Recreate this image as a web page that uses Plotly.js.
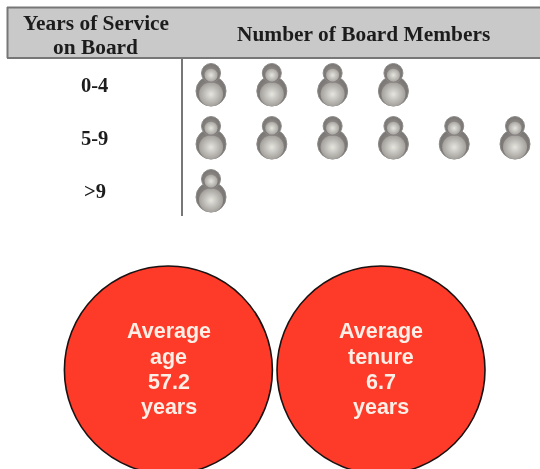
<!DOCTYPE html>
<html>
<head>
<meta charset="utf-8">
<script src="https://cdn.plot.ly/plotly-3.0.1.min.js"></script>
<style>html,body{margin:0;padding:0;background:#fff;overflow:hidden}#c{width:540px;height:469px;filter:blur(0.45px)}</style>
</head>
<body>
<div id="c"></div>
<script>
var categories = ["0-4", "5-9", ">9"];
var memberCounts = [4, 6, 1];
var headerLeft = ["Years of Service", "on Board"];
var headerRight = "Number of Board Members";
var circleAge = ["Average", "age", "57.2", "years"];
var circleTenure = ["Average", "tenure", "6.7", "years"];

var W = 540, H = 469;
var plotL = 183, plotT = 58, plotB = 216;
function px(x){return (x-plotL)/(W-plotL);}
function py(y){return (plotB-y)/(plotB-plotT);}

var xs = [], ys = [];
memberCounts.forEach(function(n, r){
  for (var i = 1; i <= n; i++){ xs.push(i); ys.push(r); }
});
function layer(dy, size, outer, inner, lineColor){
  return {
    type:"scatter", mode:"markers", x:xs, y:ys.map(function(v){return v+dy;}),
    hoverinfo:"skip", cliponaxis:false, showlegend:false,
    marker:{symbol:"circle", size:size, color:outer,
      gradient:{type:"radial", color:inner},
      line:{width:lineColor?1:0, color:lineColor||outer}}
  };
}
var traces = [
  layer(0.115, 30, "#777472", "#9b9895", "#8d8b89"),
  layer(0.175, 24, "#a3a09c", "#e6e5de"),
  layer(-0.225, 19, "#777472", "#9b9895", "#8d8b89"),
  layer(-0.185, 13, "#a9a6a2", "#e6e5de")
];

function circle(cx){
  var r = 104, cy = 370;
  return {type:"circle", xref:"paper", yref:"paper", layer:"below",
    x0:px(cx-r), x1:px(cx+r), y0:py(cy+r), y1:py(cy-r),
    fillcolor:"#fe3a28", line:{color:"#1a1212", width:1.6}};
}
function hline(y){
  return {type:"line", xref:"paper", yref:"paper", x0:px(7), x1:1, y0:py(y), y1:py(y),
    line:{color:"#777777", width:2}};
}

var shapes = [
  {type:"rect", xref:"paper", yref:"paper", layer:"below", x0:px(7), x1:1, y0:py(58), y1:py(7),
    fillcolor:"#c9c9c9", line:{width:0}},
  hline(7.5), hline(58),
  {type:"line", xref:"paper", yref:"paper", x0:px(7.5), x1:px(7.5), y0:py(58), y1:py(7),
    line:{color:"#777777", width:2}},
  circle(168.4), circle(381)
];

var serif = "Liberation Serif, Times New Roman, serif";
var sans = "Liberation Sans, Arial, sans-serif";
var headFont = {family:serif, size:21.4, color:"#1c1c1c", weight:"bold"};
var catFont = {family:serif, size:20.5, color:"#1c1c1c", weight:"bold"};
var sansFont = {family:sans, size:21.5, color:"#fdeee6", weight:"bold"};
function note(text, x, y, font, yref){
  return {text:text, xref:"paper", yref:yref||"paper", x:px(x), y:y, showarrow:false,
    xanchor:"center", yanchor:"middle", font:font};
}
var annotations = [
  note(headerLeft[0], 95.5, py(23), headFont),
  note(headerLeft[1], 95.5, py(46.5), headFont),
  note(headerRight, 363.5, py(34), headFont)
];
categories.forEach(function(c, r){
  annotations.push(note(c, 94.5, r, catFont, "y"));
});
var lineY = [330.5, 356.5, 382, 407.5];
circleAge.forEach(function(t, i){ annotations.push(note(t, 168.5, py(lineY[i]), sansFont)); });
circleTenure.forEach(function(t, i){ annotations.push(note(t, 380.5, py(lineY[i]), sansFont)); });

var layout = {
  width:W, height:H, paper_bgcolor:"#ffffff", plot_bgcolor:"#ffffff",
  margin:{l:plotL, r:0, t:plotT, b:H-plotB, pad:0}, showlegend:false,
  xaxis:{range:[0.539, 6.411], visible:false, fixedrange:true},
  yaxis:{range:[2.472, -0.509], showgrid:false, zeroline:false, showticklabels:false,
    ticks:"", showline:true, linecolor:"#777777", linewidth:2, fixedrange:true},
  shapes:shapes, annotations:annotations
};
Plotly.newPlot("c", traces, layout, {displayModeBar:false, staticPlot:true});
</script>
</body>
</html>
